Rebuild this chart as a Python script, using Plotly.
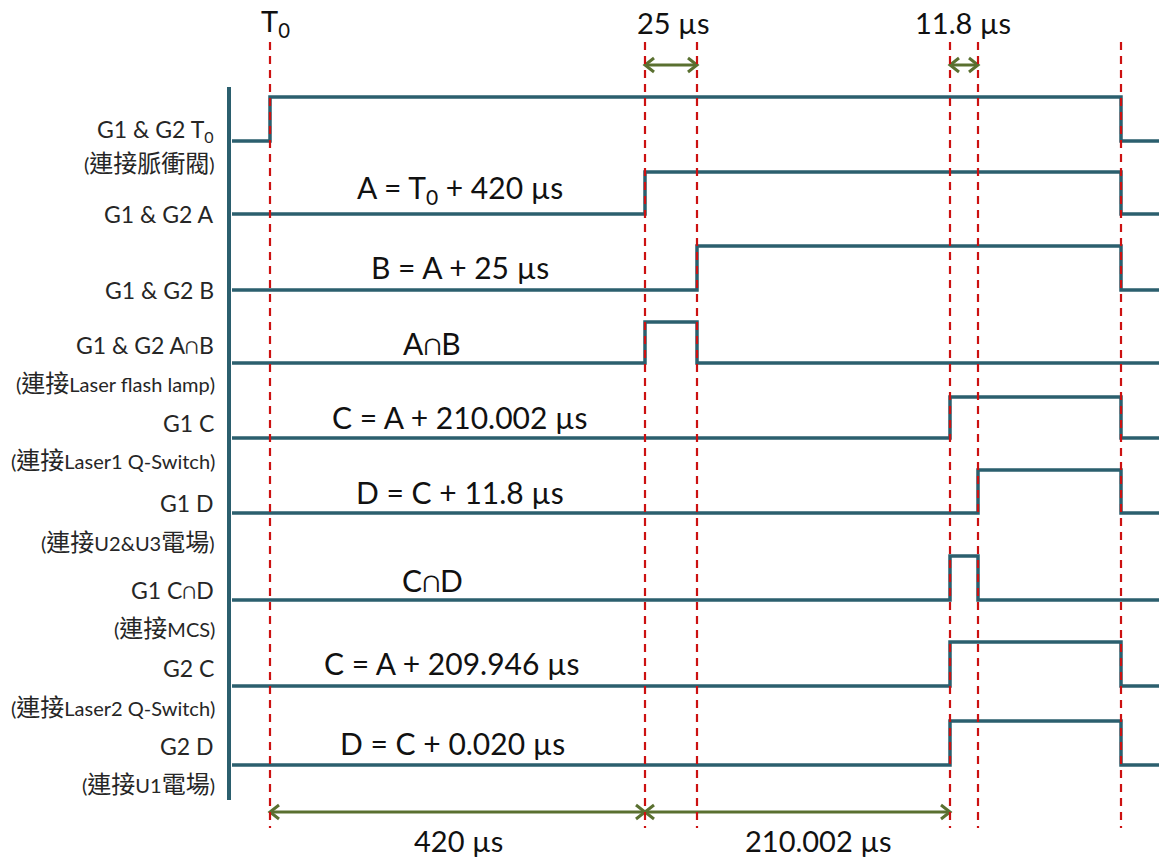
import re
import plotly.graph_objects as go

# ---- data (schematic positions, in diagram units) ----
event_names = ["T0", "A", "B", "C", "D", "End"]
event_x = [270, 645, 697, 950, 978, 1121]
x_start = 232
x_stop = 1159

channels = ["G1 & G2 T<sub>0</sub>", "G1 & G2 A", "G1 & G2 B", "G1 & G2 A∩B",
            "G1 C", "G1 D", "G1 C∩D", "G2 C", "G2 D"]
ch_low = [141, 214, 290, 363, 438, 513, 600, 686, 765]
ch_high = [97, 172, 246, 322, 397, 470, 556, 642, 721]
ch_on = ["T0", "A", "B", "A", "C", "D", "C", "C", "C"]
ch_off = ["End", "End", "End", "B", "End", "End", "D", "End", "End"]
ch_label_y = [130, 214, 290, 345, 423, 503, 590, 668, 746]

notes = ["(連接脈衝閥)", "(連接Laser flash lamp)", "(連接Laser1 Q-Switch)",
         "(連接U2&U3電場)", "(連接MCS)", "(連接Laser2 Q-Switch)", "(連接U1電場)"]
note_y = [162, 382, 459, 541, 627, 706, 783]

formulas = ["A = T<sub>0</sub> + 420 µs", "B = A + 25 µs", "A∩B", "C = A + 210.002 µs",
            "D = C + 11.8 µs", "C∩D", "C = A + 209.946 µs", "D = C + 0.020 µs"]
formula_x = [460, 460, 432, 460, 460, 432, 452, 452]
formula_y = [189, 267, 343, 417, 492, 580, 663, 743]

# interval arrows: (from event, to event, y, label, label x, label y)
intervals = [("A", "B", 65, "25 µs", 673, 22),
             ("C", "D", 65, "11.8 µs", 963, 22),
             ("T0", "A", 812, "420 µs", 458, 840),
             ("A", "C", 812, "210.002 µs", 818, 840)]

pos = dict(zip(event_names, event_x))

SIG = "#2b5f6e"
RED = "#cc1111"
GRN = "#5a7030"
TXT = "#262626"
LAT = "Lato, 'Open Sans', sans-serif"
MIX = "Lato, 'Noto Sans CJK TC', sans-serif"


def cjk_big(s, size=24):
    # enlarge runs of CJK characters to match the wider ideographs of the original
    return re.sub(r"([\u4e00-\u9fff]+)",
                  lambda m: f"<span style='font-size:{size}px'>{m.group(1)}</span>", s)


fig = go.Figure()

# dashed event markers
for x in event_x:
    fig.add_shape(type="line", x0=x, x1=x, y0=42, y1=828, xref="x", yref="y",
                  line=dict(color=RED, width=2.2, dash="8px,6px"), layer="above")

# left axis line
fig.add_shape(type="line", x0=229, x1=229, y0=87, y1=800, xref="x", yref="y",
              line=dict(color=SIG, width=4), layer="below")

# signals
for lo, hi, on, off in zip(ch_low, ch_high, ch_on, ch_off):
    xs = [x_start, pos[on], pos[off], x_stop]
    ys = [lo, hi, lo, lo]
    fig.add_trace(go.Scatter(x=xs, y=ys, mode="lines", line=dict(color=SIG, width=3.5, shape="hv"),
                             hoverinfo="skip", showlegend=False))

# interval arrows with chevron heads
for a, b, y, lab, lx, ly in intervals:
    x0, x1 = pos[a], pos[b]
    hl, hw = 9, 7
    xs = [x0, x1, None,
          x0 + hl, x0, x0 + hl, None,
          x1 - hl, x1, x1 - hl]
    ys = [y, y, None,
          y - hw, y, y + hw, None,
          y - hw, y, y + hw]
    fig.add_trace(go.Scatter(x=xs, y=ys, mode="lines", line=dict(color=GRN, width=3),
                             hoverinfo="skip", showlegend=False))
    fig.add_annotation(x=lx, y=ly, text=lab, showarrow=False, xanchor="center", yanchor="middle",
                       font=dict(family=LAT, size=29, color="#111"))

# top T0 label
fig.add_annotation(x=pos["T0"] + 5, y=22, text="T<sub>0</sub>", showarrow=False,
                   xanchor="center", yanchor="middle", font=dict(family=LAT, size=29, color="#111"))

# channel labels
for lab, y in zip(channels, ch_label_y):
    fig.add_annotation(x=216, y=y, text=lab, showarrow=False, xanchor="right", yanchor="middle",
                       font=dict(family=LAT, size=23, color=TXT))
for lab, y in zip(notes, note_y):
    fig.add_annotation(x=217, y=y, text=cjk_big(lab), showarrow=False, xanchor="right", yanchor="middle",
                       font=dict(family=MIX, size=20, color=TXT))

# formulas
for lab, x, y in zip(formulas, formula_x, formula_y):
    fig.add_annotation(x=x, y=y, text=lab, showarrow=False, xanchor="center", yanchor="middle",
                       font=dict(family=LAT, size=30, color="#111"))

fig.update_layout(
    width=1159, height=860, margin=dict(l=0, r=0, t=0, b=0),
    paper_bgcolor="white", plot_bgcolor="white",
    xaxis=dict(range=[0, 1159], visible=False, fixedrange=True),
    yaxis=dict(range=[860, 0], visible=False, fixedrange=True),
)

# remove the page's default body margin so the figure fills the window exactly
fig.write_html("out.html", config={"displayModeBar": False},
               post_script="document.body.style.margin='0';")
